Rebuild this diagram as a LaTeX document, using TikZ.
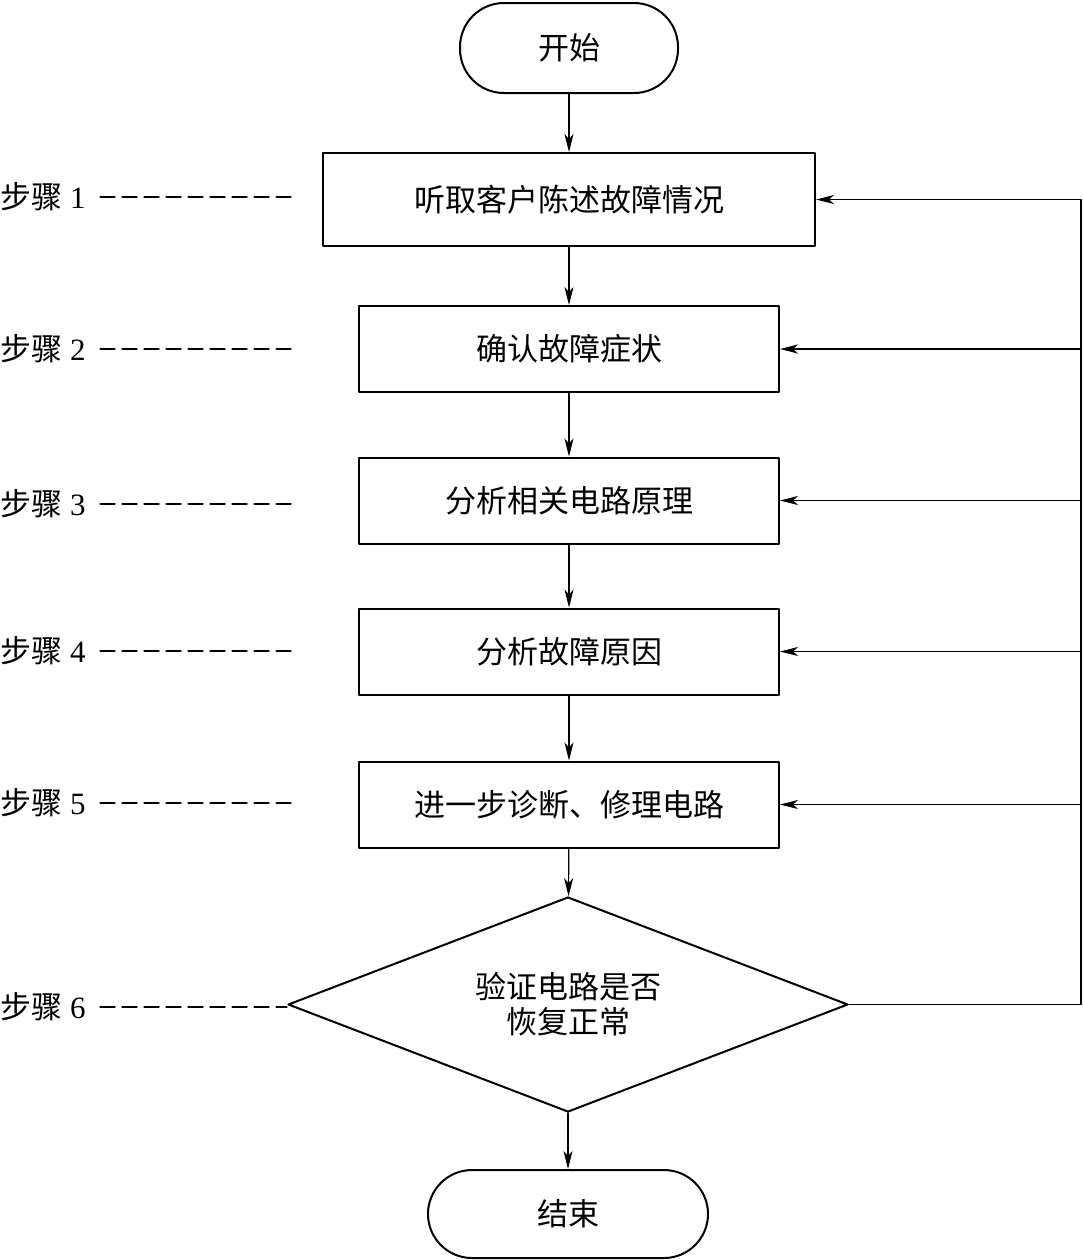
\documentclass[tikz,border=0pt]{standalone}
\usepackage{fontspec}
\setmainfont{Liberation Serif}
\newfontfamily\cjk{Noto Sans CJK SC}
\usetikzlibrary{arrows.meta, positioning, shapes.geometric}
\tikzset{every node/.style={font=\fontsize{15.5}{19}\selectfont}, every path/.style={line cap=round, line join=round}, >={Stealth[length=9pt, width=4.5pt, inset=2.5pt]}}

\begin{document}
\begin{tikzpicture}[x=0.5pt, y=-0.5pt,
    stepbox/.style={draw, line width=1pt, font=\cjk\fontsize{15.5}{19}\selectfont, minimum width=210pt, minimum height=43pt},
    terminal/.style={draw, line width=1pt, rounded corners=22pt, font=\cjk\fontsize{15.5}{19}\selectfont, minimum height=45pt},
    checkbox/.style={draw, diamond, line width=1pt, aspect=2.6, inner sep=0pt, minimum width=280pt, minimum height=107.5pt, align=center, font=\cjk\fontsize{15.5}{17.5}\selectfont},
    steplabel/.style={anchor=west, inner sep=0pt},
    flow/.style={->, line width=0.6pt},
    dashline/.style={line width=0.6pt, dash pattern=on 7.5pt off 3.5pt}]
    \useasboundingbox (0,0) rectangle (1083,1260);

    % main column
    \node [terminal, minimum width=109pt] (start) at (569,48) {开始};
    \node [stepbox, minimum width=246pt, minimum height=46.5pt] (b1) at (569,199.5) {听取客户陈述故障情况};
    \node [stepbox] (b2) at (569,349) {确认故障症状};
    \node [stepbox] (b3) at (569,500.5) {分析相关电路原理};
    \node [stepbox] (b4) at (569,651.5) {分析故障原因};
    \node [stepbox] (b5) at (569,804.5) {进一步诊断、修理电路};
    \node [checkbox] (dia) at (568,1004.5) {验证电路是否\\恢复正常};
    \node [terminal, minimum width=140pt, minimum height=44pt] (stop) at (568,1214) {结束};

    \draw [flow] (start) -- (b1);
    \draw [flow] (b1) -- (b2);
    \draw [flow] (b2) -- (b3);
    \draw [flow] (b3) -- (b4);
    \draw [flow] (b4) -- (b5);
    \draw [flow] (b5) -- (dia);
    \draw [flow] (dia) -- (stop);

    % feedback
    \coordinate (fb) at (1081,1004.5);
    \draw [flow] (dia.east) -- (fb) |- (b1.east);
    \foreach \n in {b2, b3, b4, b5}
        \draw [flow] (fb |- \n.east) -- (\n.east);

    % step labels
    \foreach \i/\y in {1/197, 2/349, 3/504, 4/651, 5/803} {
        \node [steplabel] (s\i) at (0,\y) {{\cjk 步骤} \i};
        \coordinate (d\i) at (297,\y);
        \draw [dashline] ([xshift=7pt]s\i.east) -- (d\i);
    }
    \node [steplabel] (s6) at (0,1007) {{\cjk 步骤} 6};
    \draw [dashline] ([xshift=7pt]s6.east) -- (s6.east -| dia.west);
\end{tikzpicture}
\end{document}
